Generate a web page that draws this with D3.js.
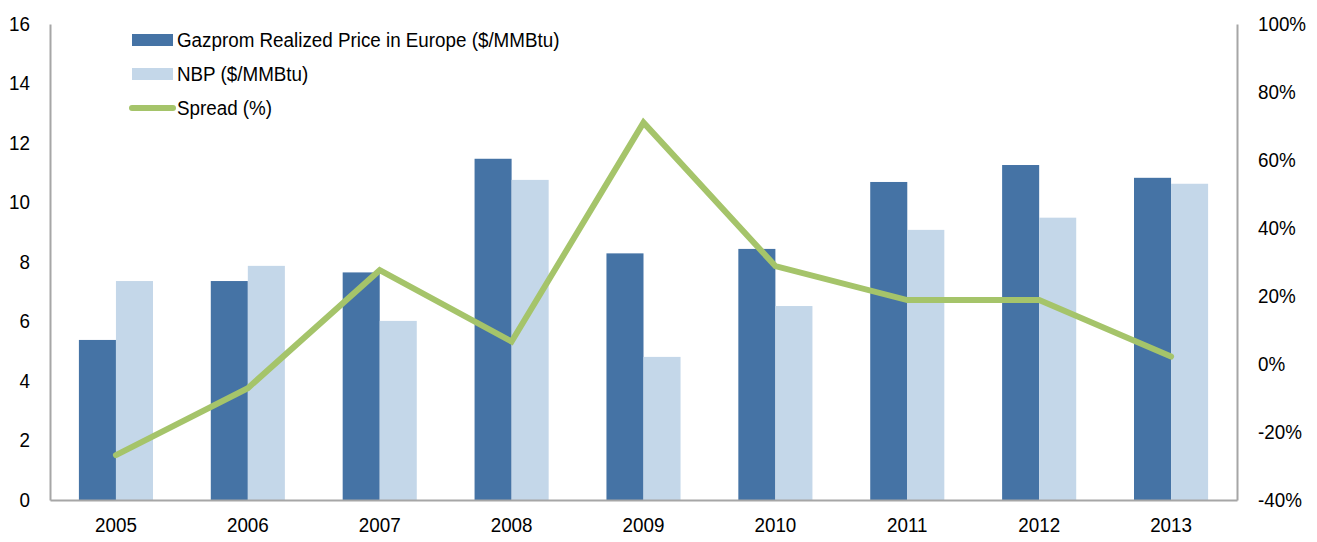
<!DOCTYPE html>
<html>
<head>
<meta charset="utf-8">
<script src="https://cdn.jsdelivr.net/npm/d3@7"></script>
<style>
  body { margin: 0; background: #fff; }
  svg { display: block; font-family: "Liberation Sans", Arial, sans-serif; }
</style>
</head>
<body>
<svg width="1317" height="542"></svg>
<script>
const years = ['2005', '2006', '2007', '2008', '2009', '2010', '2011', '2012', '2013']
const gazprom = [5.38, 7.36, 7.65, 11.47, 8.29, 8.44, 10.69, 11.26, 10.83]
const nbp = [7.36, 7.87, 6.02, 10.76, 4.81, 6.52, 9.08, 9.49, 10.63]
const spread = [-26.8, -7.1, 27.6, 6.6, 71, 28.8, 18.8, 18.8, 2.2]
const leftTicks = [0, 2, 4, 6, 8, 10, 12, 14, 16]
const rightTicks = [-40, -20, 0, 20, 40, 60, 80, 100]

const seriesNames = ['Gazprom Realized Price in Europe ($/MMBtu)', 'NBP ($/MMBtu)', 'Spread (%)']
const colors = ['#4573A5', '#C4D7E9', '#A5C46A']

const svg = d3.select('svg')
const margin = { top: 24, right: 80, bottom: 42, left: 50 }
const width = +svg.attr('width')
const height = +svg.attr('height')
const innerWidth = width - margin.left - margin.right
const innerHeight = height - margin.top - margin.bottom

const g = svg.append('g')
  .attr('transform', `translate(${margin.left}, ${margin.top})`)

const x0 = d3.scaleBand()
  .domain(years)
  .range([0, innerWidth])

const x1 = d3.scaleBand()
  .domain(['gazprom', 'nbp'])
  .range([0, x0.bandwidth()])
  .paddingOuter(0.78)

const yLeft = d3.scaleLinear().domain([0, 16]).range([innerHeight, 0])
const yRight = d3.scaleLinear().domain([-40, 100]).range([innerHeight, 0])

// bars
const rows = years.map((y, i) => ({ year: y, gazprom: gazprom[i], nbp: nbp[i] }))
const groups = g.selectAll('.grp').data(rows)
  .enter().append('g')
  .attr('transform', d => `translate(${x0(d.year)}, 0)`)

groups.selectAll('rect')
  .data(d => [{ key: 'gazprom', v: d.gazprom }, { key: 'nbp', v: d.nbp }])
  .enter().append('rect')
  .attr('x', d => x1(d.key))
  .attr('width', x1.bandwidth())
  .attr('y', d => yLeft(d.v))
  .attr('height', d => innerHeight - yLeft(d.v))
  .style('fill', d => d.key === 'gazprom' ? colors[0] : colors[1])

// axes
const axisColor = '#A6A6A6'
const fontSize = '20px'

const yAxisL = d3.axisLeft(yLeft).tickValues(leftTicks).tickSize(0).tickPadding(20)
const yAxisLG = g.append('g').call(yAxisL)
yAxisLG.select('.domain').attr('stroke', axisColor).attr('stroke-width', 2)

const yAxisR = d3.axisRight(yRight).tickValues(rightTicks).tickSize(0).tickPadding(21)
  .tickFormat(d => d + '%')
const yAxisRG = g.append('g').attr('transform', `translate(${innerWidth}, 0)`).call(yAxisR)
yAxisRG.select('.domain').attr('stroke', axisColor).attr('stroke-width', 2)

const xAxis = d3.axisBottom(x0).tickSize(0).tickPadding(18)
const xAxisG = g.append('g').attr('transform', `translate(0, ${innerHeight})`).call(xAxis)
xAxisG.select('.domain').attr('stroke', axisColor).attr('stroke-width', 2)

svg.selectAll('.tick text')
  .style('font-size', fontSize)
  .style('font-family', '"Liberation Sans", Arial, sans-serif')
  .attr('fill', '#000')

// spread line
const line = d3.line()
  .x((d, i) => x0(years[i]) + x0.bandwidth() / 2)
  .y(d => yRight(d))

g.append('path')
  .datum(spread)
  .attr('d', line)
  .attr('fill', 'none')
  .attr('stroke', colors[2])
  .attr('stroke-width', 6)
  .attr('stroke-linejoin', 'miter')
  .attr('stroke-linecap', 'round')

// legend
const legend = svg.append('g').attr('transform', 'translate(132, 40)')
const legendRows = legend.selectAll('g').data(seriesNames)
  .enter().append('g')
  .attr('transform', (d, i) => `translate(0, ${i * 34})`)

legendRows.each(function (d, i) {
  const row = d3.select(this)
  if (i < 2) {
    row.append('rect').attr('x', 0).attr('y', -6).attr('width', 41).attr('height', 12)
      .style('fill', colors[i])
  } else {
    row.append('line').attr('x1', 0).attr('x2', 41).attr('y1', 0).attr('y2', 0)
      .attr('stroke', colors[2]).attr('stroke-width', 6).attr('stroke-linecap', 'round')
  }
  row.append('text')
    .attr('x', 45)
    .attr('dy', '0.35em')
    .style('font-size', fontSize)
    .text(d)
})

// the source font runs a little narrower than Liberation Sans
svg.selectAll('text').each(function () {
  const w = this.getComputedTextLength()
  d3.select(this)
    .attr('textLength', w * 0.94)
    .attr('lengthAdjust', 'spacingAndGlyphs')
})
</script>
</body>
</html>
